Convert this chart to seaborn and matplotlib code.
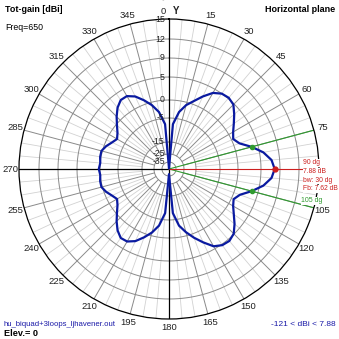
import numpy as np
import pandas as pd
import matplotlib
matplotlib.use("Agg")
import matplotlib.pyplot as plt
from matplotlib.transforms import offset_copy
import seaborn as sns

# Azimuth pattern, horizontal plane (degrees clockwise from Y, gain in dBi)
azimuth = list(range(0, 360, 5))
gain = [
    -121.0, -7.5, -3.1, -0.8, 0.7, 2.4, 4.1, 5.0, 5.2, 4.8, 3.5, 2.2,
    1.1, 0.4, 1.3, 3.6, 5.8, 7.3, 7.88, 7.3, 5.8, 3.6, 1.4, 0.5,
    1.1, 2.2, 3.6, 4.9, 5.4, 5.2, 4.4, 2.6, 0.9, -1.0, -3.2, -7.8,
    -60.0, -7.8, -3.2, -0.9, 0.8, 2.3, 3.2, 3.3, 2.4, 1.1, -0.3, -1.7,
    -2.5, -1.7, -0.6, 0.2, 0.2, 0.0, 0.26, 0.0, 0.2, 0.2, -0.6, -1.7,
    -2.5, -1.7, -0.3, 1.1, 2.4, 3.3, 3.3, 2.4, 0.9, -0.8, -3.1, -7.5,
]

# Gain rings and their labels
ring_db = [15, 12, 9, 5, 0, -5, -15, -25, -35]
angle_ticks = list(range(0, 360, 15))

# Main-lobe summary
max_dir, max_gain = 90, 7.88
bw_edges = [75, 105]
bw_gain = [3.6, 3.6]
beamwidth, front_back = 30, 7.62
gain_min = -121

# Compressed (log-like) radial scale in dB
SCALE_DB = [-130, -35, -25, -15, -5, 0, 5, 9, 12, 15]
SCALE_R = [0, 7, 15, 27, 51, 69, 92, 111, 130, 150]


def fwd(x):
    return np.interp(x, SCALE_DB, SCALE_R)


def inv(r):
    return np.interp(r, SCALE_R, SCALE_DB)


sns.set_theme(style="white")
plt.rcParams["font.family"] = ["Liberation Sans", "DejaVu Sans"]

W = 339
fig = plt.figure(figsize=(W / 100, W / 100), dpi=100)
fig.patch.set_facecolor("white")
ax = fig.add_axes([19 / W, 20 / W, 300 / W, 300 / W], projection="polar")
ax.set_theta_zero_location("N")
ax.set_theta_direction(-1)
ax.set_rscale("function", functions=(fwd, inv))
ax.set_ylim(-130, 15)
ax.grid(False)
ax.set_xticks([])
ax.set_yticks([])
ax.spines["polar"].set_color("black")
ax.spines["polar"].set_linewidth(0.9)
ax.set_facecolor("white")

full = np.linspace(0, 2 * np.pi, 361)
for db in ring_db[1:]:
    ax.plot(full, np.full_like(full, db), color="#8a8a8a", lw=0.7, zorder=1)

# Fine and coarse spokes
for a in range(0, 360, 5):
    th = np.deg2rad(a)
    if a % 15:
        ax.plot([th, th], [-15, 15], color="#d2d2d2", lw=0.6, zorder=0.5)
    else:
        ax.plot([th, th], [-25, 15], color="#8a8a8a", lw=0.7, zorder=0.8)

# Main axes
for a in (0, 180, 270):
    th = np.deg2rad(a)
    ax.plot([th, th], [-130, 15], color="black", lw=0.9, zorder=2)

# Beamwidth and maximum markers
green = "#2f9a2f"
red = "#cc1f1f"
for a in bw_edges:
    th = np.deg2rad(a)
    ax.plot([th, th], [-130, 15], color=green, lw=0.8, zorder=2.5)
ax.plot([np.deg2rad(max_dir)] * 2, [-130, 15], color=red, lw=0.8, zorder=2.6)

# Pattern
df = pd.DataFrame({"theta": np.deg2rad(azimuth + [azimuth[0]]),
                   "gain": gain + [gain[0]]})
sns.lineplot(data=df, x="theta", y="gain", ax=ax, sort=False, estimator=None,
             color="#0a1aa0", lw=1.6, zorder=3)
ax.set_xlabel("")
ax.set_ylabel("")
ax.set_ylim(-130, 15)

ax.plot(np.deg2rad(bw_edges), bw_gain, "o", color=green, ms=3, zorder=4)
ax.plot([np.deg2rad(max_dir)], [max_gain], "o", color=red, ms=3.5, zorder=4)

# Ring labels along the vertical axis
lbl_tr = offset_copy(ax.transData, fig=fig, x=-3, y=0, units="points")
for db in ring_db:
    ax.text(0, db, str(db), ha="right", va="center", fontsize=6.3,
            color="#222222", transform=lbl_tr, zorder=5)

# Angle labels around the rim
R = 159 / 300
for a in angle_ticks:
    if a in (0, max_dir):
        continue
    t = np.deg2rad(a)
    ax.text(0.5 + R * np.sin(t), 0.5 + R * np.cos(t), str(a),
            transform=ax.transAxes, ha="center", va="center", fontsize=6.8,
            color="#222222", clip_on=False)


def ftext(x, y, s, **kw):
    fig.text(x / W, 1 - y / W, s, **kw)


ftext(163, 11, "0", ha="center", va="center", fontsize=6.8, color="#222222")
ftext(163, 3, "°", ha="center", va="center", fontsize=5, color="#999999")
ftext(176, 11, "Y", ha="center", va="center", fontsize=7, fontweight="bold",
      color="#222222")

ftext(5, 9, "Tot-gain [dBi]", ha="left", va="center", fontsize=6.4,
      fontweight="bold", color="black")
ftext(5, 28, "Freq=650", ha="left", va="center", fontsize=6.3, color="black")
ftext(335, 9, "Horizontal plane", ha="right", va="center", fontsize=6.5,
      fontweight="bold", color="black")
ftext(4, 324, "hu_biquad+3loops_ljhavener.out", ha="left", va="center",
      fontsize=5.6, color="#1a1aa8")
ftext(4, 334, "Elev.= 0", ha="left", va="center", fontsize=6.6,
      fontweight="bold", color="black")
ftext(336, 324, f"{gain_min} < dBi < {max_gain}", ha="right", va="center",
      fontsize=6.0, color="#1a1aa8")

box = dict(facecolor="white", edgecolor="none", pad=0.3)
red_lines = [f"{max_dir} dg", f"{max_gain} dB", f"bw: {beamwidth} dg",
             f"Fb: {front_back} dB"]
for i, s in enumerate(red_lines):
    ftext(303, 163 + 8.6 * i, s, ha="left", va="center", fontsize=4.9,
          color=red, bbox=box)
ftext(301, 201, f"{bw_edges[1]} dg", ha="left", va="center", fontsize=5.0,
      color=green, bbox=box)

fig.savefig("out.png", dpi=100, facecolor="white")
